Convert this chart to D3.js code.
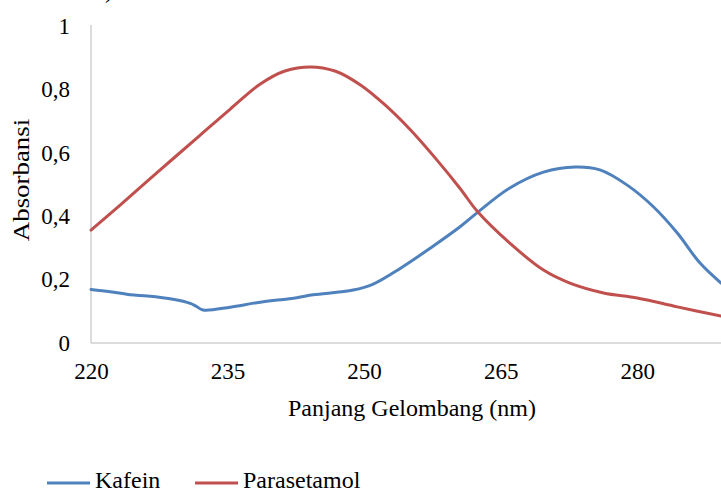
<!DOCTYPE html>
<html>
<head>
<meta charset="utf-8">
<script src="https://cdn.jsdelivr.net/npm/d3@7"></script>
<style>
  html, body { margin: 0; padding: 0; background: #fff; }
  svg { display: block; }
</style>
</head>
<body>
<svg id="chart" width="721" height="492"></svg>
<script>
// ---- data ----
const xTicks = [220, 235, 250, 265, 280];
const yTicks = [0, 0.2, 0.4, 0.6, 0.8, 1];

const kafeinWavelength = [220, 222.1, 224.3, 226.2, 229.0, 230.9, 231.6, 232.3, 235.3, 238.2, 242.6, 244.4, 248.8, 251.0, 254.0, 257.3, 260.5, 262.5, 266.0, 269.7, 273.2, 275.9, 278.9, 281.8, 284.4, 286.9, 289.2];
const kafeinAbs        = [0.169, 0.162, 0.152, 0.148, 0.138, 0.125, 0.115, 0.104, 0.113, 0.127, 0.143, 0.152, 0.167, 0.186, 0.236, 0.300, 0.366, 0.413, 0.489, 0.539, 0.555, 0.546, 0.498, 0.429, 0.347, 0.252, 0.189];

const paraWavelength = [220, 223.2, 227.6, 232.0, 235.3, 238.6, 241.3, 244.1, 246.8, 249.6, 252.3, 255.1, 257.8, 260.5, 262.5, 266.0, 269.7, 272.6, 276.3, 280.0, 284.4, 289.2];
const paraAbs        = [0.356, 0.435, 0.546, 0.656, 0.738, 0.817, 0.858, 0.871, 0.858, 0.814, 0.751, 0.672, 0.584, 0.489, 0.413, 0.315, 0.230, 0.189, 0.158, 0.142, 0.114, 0.085];

const seriesNames = ["Kafein", "Parasetamol"];
const seriesColors = ["#4f81bd", "#c0504d"];

// ---- layout ----
const FONT = "'Liberation Serif'";
const svg = d3.select("#chart");
const pLeft = 91, pRight = 721, pTop = 26, pBottom = 343;

const x = d3.scaleLinear().domain([220, 289.2]).range([pLeft, pRight]);
const y = d3.scaleLinear().domain([0, 1]).range([pBottom, pTop]);

const fmt = d => d3.format(".1f")(d).replace(".", ",");

function styleText(sel, size) {
  sel.style("font-family", FONT).style("font-size", size + "px").attr("fill", "#000");
}

// axes lines
svg.append("line").attr("x1", pLeft).attr("x2", pLeft).attr("y1", pTop - 1).attr("y2", pBottom)
  .attr("stroke", "#d0d0d0").attr("stroke-width", 1.5);
svg.append("line").attr("x1", pLeft).attr("x2", pRight).attr("y1", pBottom).attr("y2", pBottom)
  .attr("stroke", "#d0d0d0").attr("stroke-width", 1.5);

// y-axis tick labels
const yAxis = d3.axisLeft(y).tickValues(yTicks).tickSize(0).tickPadding(21)
  .tickFormat(d => d === 0 ? "0" : d === 1 ? "1" : fmt(d));
const gy = svg.append("g").attr("transform", `translate(${pLeft},0)`).call(yAxis);
gy.attr("font-family", null).attr("font-size", null);
gy.select(".domain").remove();
styleText(gy.selectAll("text"), 23);

// x-axis tick labels
const xAxis = d3.axisBottom(x).tickValues(xTicks).tickSize(0).tickPadding(20)
  .tickFormat(d3.format("d"));
const gx = svg.append("g").attr("transform", `translate(0,${pBottom})`).call(xAxis);
gx.attr("font-family", null).attr("font-size", null);
gx.select(".domain").remove();
styleText(gx.selectAll("text"), 23);

// axis titles
styleText(svg.append("text").attr("x", 412).attr("y", 416).attr("text-anchor", "middle")
  .text("Panjang Gelombang (nm)"), 24);
styleText(svg.append("text").attr("transform", "translate(29,180) rotate(-90) scale(1.12,1)")
  .attr("text-anchor", "middle").text("Absorbansi"), 24);

// cut-off label at top
styleText(svg.append("text").attr("x", 113).attr("y", -2).attr("text-anchor", "end").text("a)"), 24);

// lines
const line = d3.line().x(d => x(d[0])).y(d => y(d[1])).curve(d3.curveCatmullRom.alpha(0.5));
const kafein = kafeinWavelength.map((w, i) => [w, kafeinAbs[i]]);
const para = paraWavelength.map((w, i) => [w, paraAbs[i]]);
[kafein, para].forEach((data, i) => {
  svg.append("path").datum(data).attr("d", line)
    .attr("fill", "none").attr("stroke", seriesColors[i]).attr("stroke-width", 3)
    .attr("stroke-linejoin", "round").attr("stroke-linecap", "round");
});

// legend
const legendX = [47, 195];
seriesNames.forEach((name, i) => {
  svg.append("line").attr("x1", legendX[i]).attr("x2", legendX[i] + 43)
    .attr("y1", 483).attr("y2", 483).attr("stroke", seriesColors[i]).attr("stroke-width", 3);
  styleText(svg.append("text").attr("x", legendX[i] + 48).attr("y", 488).text(name), 24);
});
</script>
</body>
</html>
